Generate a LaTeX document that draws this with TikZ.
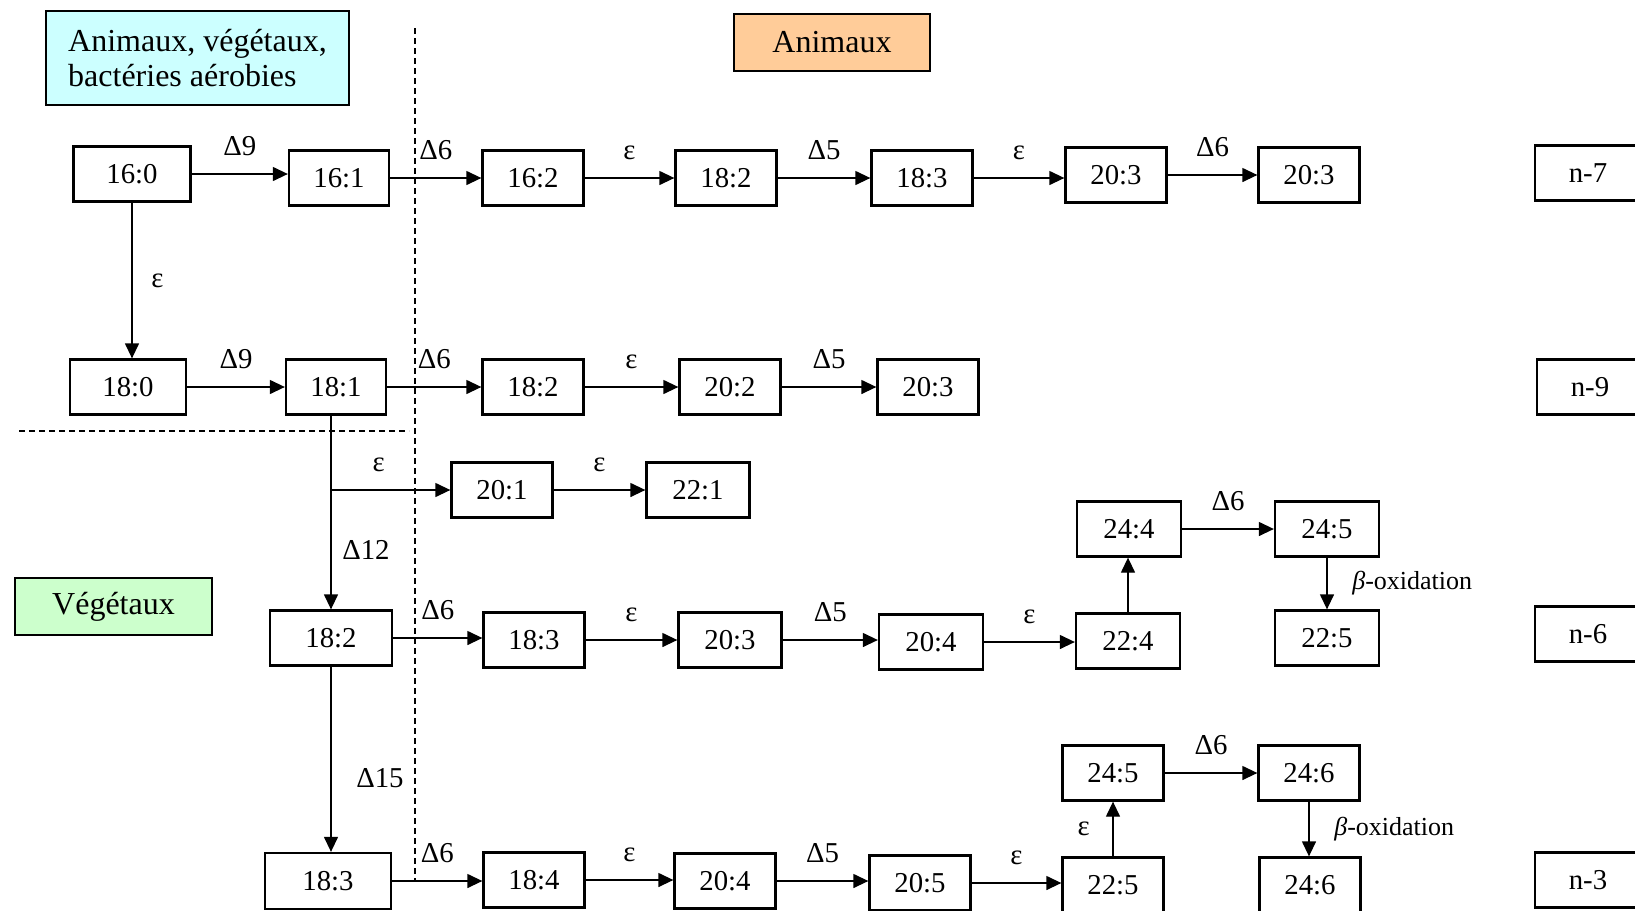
\documentclass[tikz,border=0pt]{standalone}
\usepackage{fontspec}
\setmainfont{Liberation Serif}
\usetikzlibrary{arrows.meta}
\definecolor{cyanclair}{HTML}{CCFFFF}
\definecolor{orangeclair}{HTML}{FFCC99}
\definecolor{vertclair}{HTML}{CCFFCC}
\begin{document}
\begin{tikzpicture}[x=0.5pt,y=-0.5pt,>={Triangle[length=7.5pt,width=7pt]},font=\fontsize{14.4}{17}\selectfont,
	acide/.style={draw,line width=1.15pt,minimum width=50.5pt,minimum height=27.5pt,inner sep=0pt},
	titre/.style={draw,line width=0.8pt,inner sep=0pt,minimum height=28.5pt,font=\fontsize{16}{17.5}\selectfont},
	fl/.style={->,line width=0.65pt},
	lab/.style={midway,above=5.5pt},
	boxy/.style={midway,right=9pt,font=\fontsize{13}{15}\selectfont},
	sep/.style={line width=0.65pt,dash pattern=on 3pt off 2pt}]
	\useasboundingbox (0,0) rectangle (1635,911);
	\clip (0,0) rectangle (1635,911);
	% zones
	\node[titre,fill=cyanclair,minimum width=151.5pt,minimum height=47pt,align=left] (zone1) at (197.5,58) {Animaux, végétaux,\\bactéries aérobies};
	\node[titre,fill=orangeclair,minimum width=98pt] (zone2) at (832,42.5) {Animaux};
	\node[titre,fill=vertclair,minimum width=98.5pt] (zone3) at (113.5,606.5) {Végétaux};
	\draw[sep] (415,28) -- (415,882);
	\draw[sep] (19,431) -- (409,431);
	% ligne n-7
	\node[acide,minimum width=58.5pt] (a160) at (132,174) {16:0};
	\node[acide,minimum width=50pt] (a161) at (339,178) {16:1};
	\node[acide] (a162) at (533,178) {16:2};
	\node[acide] (a182a) at (726,178) {18:2};
	\node[acide] (a183a) at (922,178) {18:3};
	\node[acide] (a203a) at (1116,175) {20:3};
	\node[acide] (a203b) at (1309,175) {20:3};
	\node[acide,minimum width=53pt] (n7) at (1588,173) {n-7};
	\draw[fl] (a160) -- (a160 -| a161.west) node[lab]{Δ9};
	\draw[fl] (a161) -- (a161 -| a162.west) node[lab]{Δ6};
	\draw[fl] (a162) -- (a162 -| a182a.west) node[lab]{ε};
	\draw[fl] (a182a) -- (a182a -| a183a.west) node[lab]{Δ5};
	\draw[fl] (a183a) -- (a183a -| a203a.west) node[lab]{ε};
	\draw[fl] (a203a) -- (a203a -| a203b.west) node[lab]{Δ6};
	% ligne n-9
	\node[acide,minimum width=58pt] (a180) at (128,387) {18:0};
	\node[acide,minimum width=50pt] (a181) at (336,387) {18:1};
	\node[acide] (a182b) at (533,387) {18:2};
	\node[acide] (a202) at (730,387) {20:2};
	\node[acide] (a203c) at (928,387) {20:3};
	\node[acide,minimum width=53pt] (n9) at (1590,387) {n-9};
	\draw[fl] (a160) -- (a160 |- a180.north) node[midway,right=6pt]{ε};
	\draw[fl] (a180) -- (a180 -| a181.west) node[lab]{Δ9};
	\draw[fl] (a181) -- (a181 -| a182b.west) node[lab]{Δ6};
	\draw[fl] (a182b) -- (a182b -| a202.west) node[lab]{ε};
	\draw[fl] (a202) -- (a202 -| a203c.west) node[lab]{Δ5};
	% branche 20:1
	\node[acide] (a201) at (502,490) {20:1};
	\node[acide,minimum width=51.5pt] (a221) at (698,490) {22:1};
	% ligne n-6
	\node[acide,minimum width=61pt] (a182c) at (331,638) {18:2};
	\node[acide] (a183b) at (534,640) {18:3};
	\node[acide,minimum width=51.5pt] (a203d) at (730,640) {20:3};
	\node[acide,minimum width=52pt] (a204a) at (931,642) {20:4};
	\node[acide,minimum width=52pt] (a224) at (1128,641) {22:4};
	\node[acide,minimum width=52pt] (a244) at (1129,529) {24:4};
	\node[acide,minimum width=52pt] (a245a) at (1327,529) {24:5};
	\node[acide,minimum width=52pt] (a225a) at (1327,638) {22:5};
	\node[acide,minimum width=53pt] (n6) at (1588,634) {n-6};
	\coordinate (br) at (a182c.north |- a201.west);
	\draw[line width=0.65pt] (a181.south -| br) -- (br);
	\draw[fl] (br) -- (a201) node[lab,pos=0.4]{ε};
	\draw[fl] (a201) -- (a201 -| a221.west) node[lab]{ε};
	\draw[fl] (br) -- (a182c) node[midway,right=2pt]{Δ12};
	\draw[fl] (a182c) -- (a182c -| a183b.west) node[lab]{Δ6};
	\draw[fl] (a183b) -- (a183b -| a203d.west) node[lab]{ε};
	\draw[fl] (a203d) -- (a203d -| a204a.west) node[lab]{Δ5};
	\draw[fl] (a204a) -- (a204a -| a224.west) node[lab]{ε};
	\draw[fl] (a224) -- (a224 |- a244.south);
	\draw[fl] (a244) -- (a244 -| a245a.west) node[lab]{Δ6};
	\draw[fl] (a245a) -- (a245a |- a225a.north) node[boxy]{\textit{β}-oxidation};
	% ligne n-3
	\node[acide,minimum width=63pt,minimum height=28pt] (a183c) at (328,881) {18:3};
	\node[acide] (a184) at (534,880) {18:4};
	\node[acide] (a204b) at (725,881) {20:4};
	\node[acide] (a205) at (920,883) {20:5};
	\node[acide] (a225b) at (1113,885) {22:5};
	\node[acide] (a245b) at (1113,773) {24:5};
	\node[acide] (a246a) at (1309,773) {24:6};
	\node[acide] (a246b) at (1310,885) {24:6};
	\node[acide,minimum width=53pt] (n3) at (1588,880) {n-3};
	\draw[fl] (a182c) -- (a182c |- a183c.north) node[pos=0.6,right=9pt]{Δ15};
	\draw[fl] (a183c) -- (a183c -| a184.west) node[lab]{Δ6};
	\draw[fl] (a184) -- (a184 -| a204b.west) node[lab]{ε};
	\draw[fl] (a204b) -- (a204b -| a205.west) node[lab]{Δ5};
	\draw[fl] (a205) -- (a205 -| a225b.west) node[lab]{ε};
	\draw[fl] (a225b) -- (a225b |- a245b.south) node[midway,left=8pt]{ε};
	\draw[fl] (a245b) -- (a245b -| a246a.west) node[lab]{Δ6};
	\draw[fl] (a246a) -- (a246a |- a246b.north) node[boxy]{\textit{β}-oxidation};
\end{tikzpicture}
\end{document}
